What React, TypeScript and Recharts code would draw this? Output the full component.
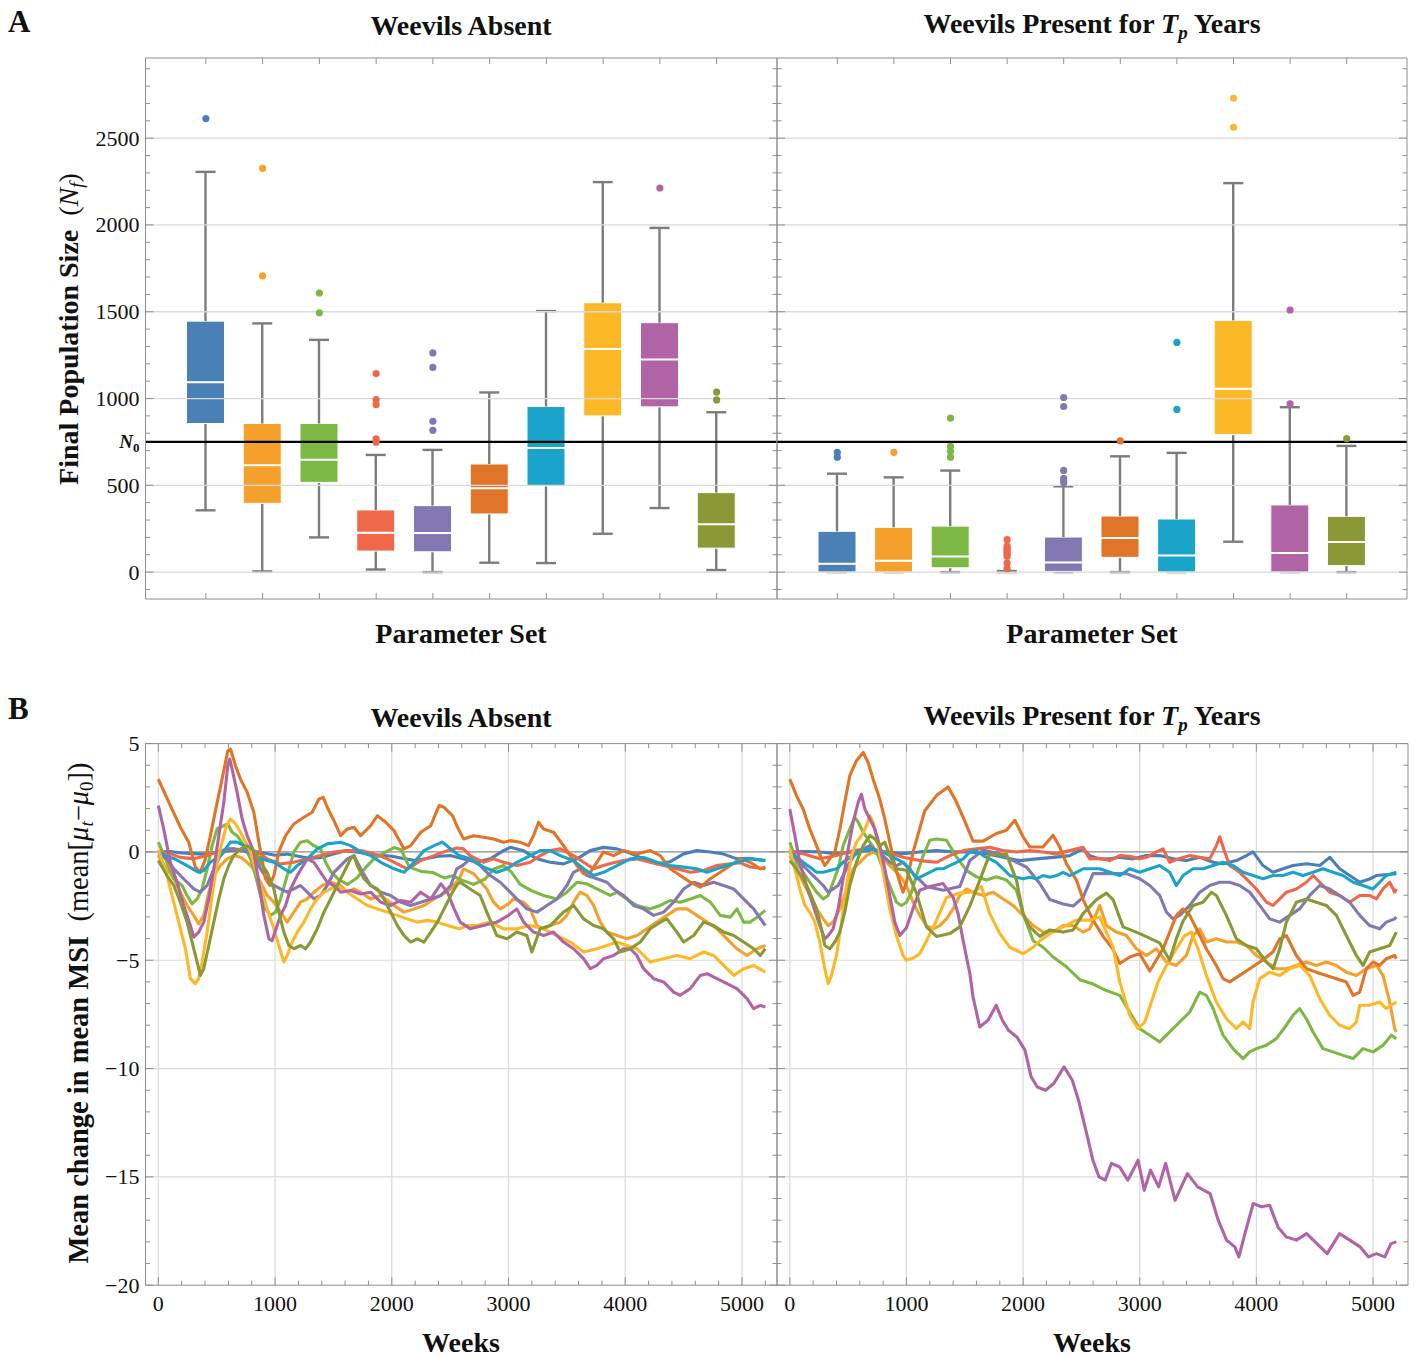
import React from 'react'
import { ComposedChart, LineChart, Line, Bar, Scatter, XAxis, YAxis, ReferenceLine } from 'recharts'

const serif = '"Liberation Serif", "Times New Roman", serif'
const frameColor = '#8f8f8f'
const gridColor = '#dadada'
const whiskerColor = '#7c7c7c'

const palette = ['#4a80b6', '#f5a02a', '#7cb843', '#ef6849', '#8478b2', '#e07428', '#1ba4c9', '#fdb827', '#b164a5', '#8a9936']

// ---- panel A: final population size per parameter set ----
const setNames = ['1', '2', '3', '4', '5', '6', '7', '8', '9', '10']
const N0 = 750

const absentLow = [356, 4, 200, 15, 0, 54, 52, 221, 369, 12]
const absentQ1 = [856, 396, 517, 121, 117, 335, 496, 900, 952, 138]
const absentMedian = [1094, 615, 648, 227, 225, 483, 715, 1286, 1225, 275]
const absentQ3 = [1446, 856, 856, 358, 383, 623, 954, 1552, 1437, 458]
const absentHigh = [2306, 1433, 1338, 675, 704, 1035, 1504, 2247, 1983, 921]
const absentOutliers = [
  [0, 2613], [1, 2326], [1, 1707], [2, 1608], [2, 1494], [3, 1144], [3, 994], [3, 965], [3, 767], [3, 748],
  [4, 1263], [4, 1179], [4, 869], [4, 817], [8, 2213], [9, 1037], [9, 992],
]

const presentLow = [0, 0, 0, 0, 0, 0, 0, 175, 0, 0]
const presentQ1 = [0, 0, 25, 0, 4, 85, 0, 792, 0, 37]
const presentMedian = [48, 65, 90, 0, 56, 196, 96, 1056, 110, 173]
const presentQ3 = [235, 258, 265, 3, 202, 323, 306, 1450, 387, 321]
const presentHigh = [567, 546, 585, 6, 494, 667, 687, 2241, 950, 727]
const presentOutliers = [
  [0, 690], [0, 662], [1, 690], [2, 887], [2, 725], [2, 696], [2, 662],
  [3, 187], [3, 150], [3, 138], [3, 126], [3, 114], [3, 102], [3, 90], [3, 52], [3, 20],
  [4, 1006], [4, 954], [4, 586], [4, 540], [4, 525], [4, 515], [5, 756], [6, 1323], [6, 937],
  [7, 2730], [7, 2563], [8, 1510], [8, 969], [9, 769],
]

// ---- panel B: mean change in mean MSI, [week, value] ----
const absentBlue = [[0,0],[100,0.02],[200,-0.05],[300,-0.08],[400,-0.1],[500,0],[600,0.05],[700,0.1],[800,0.05],[900,-0.05],[1000,-0.15],[1100,-0.1],[1200,-0.2],[1300,-0.3],[1400,-0.25],[1500,-0.1],[1600,0.05],[1700,0],[1800,-0.1],[1900,-0.15],[2000,-0.2],[2100,-0.3],[2200,-0.4],[2300,-0.3],[2400,-0.2],[2500,-0.17],[2600,-0.3],[2729,-0.48],[2850,-0.3],[2957,0.06],[3014,0.21],[3130,0.05],[3243,-0.32],[3357,-0.48],[3471,-0.55],[3586,-0.32],[3700,0.06],[3814,0.21],[3929,0.14],[4040,-0.05],[4157,-0.32],[4271,-0.55],[4386,-0.45],[4500,-0.09],[4614,0.06],[4729,0],[4843,-0.1],[4957,-0.32],[5071,-0.3],[5200,-0.4]]
const absentOrange = [[0,-0.17],[74,-0.78],[132,-1.24],[189,-1.86],[246,-2.47],[303,-2.93],[346,-3.32],[389,-2.93],[432,-1.86],[475,-1.09],[532,-0.63],[589,-0.32],[646,-0.17],[704,-0.25],[761,-0.48],[818,-0.78],[875,-1.4],[932,-2.01],[990,-2.32],[1047,-2.78],[1104,-3.24],[1161,-2.78],[1218,-2.32],[1276,-2.17],[1333,-1.86],[1404,-1.55],[1476,-1.4],[1562,-1.55],[1619,-1.86],[1676,-1.71],[1733,-1.86],[1819,-2.17],[1905,-2.01],[2019,-2.47],[2105,-2.78],[2191,-2.63],[2276,-2.47],[2362,-2.17],[2420,-2.01],[2505,-1.71],[2577,-1.24],[2614,-0.78],[2700,-1.0],[2814,-1.71],[2871,-2.32],[2929,-2.63],[3000,-2.4],[3043,-2.17],[3129,-2.32],[3186,-2.63],[3243,-3.4],[3300,-3.55],[3357,-3.4],[3443,-3.24],[3500,-2.93],[3557,-2.32],[3614,-1.86],[3671,-2.01],[3729,-2.47],[3786,-3.24],[3843,-3.7],[3929,-3.86],[4014,-4.01],[4100,-3.86],[4186,-3.55],[4271,-3.24],[4357,-2.93],[4443,-2.63],[4529,-2.63],[4614,-2.93],[4700,-3.24],[4786,-3.55],[4871,-4.01],[4957,-4.47],[5043,-4.78],[5129,-4.47],[5200,-4.32]]
const absentGreen = [[0,0.45],[74,-0.48],[132,-1.24],[203,-1.55],[246,-2.01],[289,-2.4],[332,-2.17],[375,-1.71],[418,-0.78],[461,0.29],[503,1.06],[561,1.21],[595,1.29],[632,0.91],[675,0.75],[733,0.29],[790,-0.32],[832,-1.09],[875,-2.01],[918,-2.63],[961,-2.93],[1004,-2.78],[1047,-2.17],[1104,-1.09],[1161,0],[1218,0.45],[1276,0.52],[1333,0.29],[1390,0.14],[1433,-0.48],[1476,-0.9],[1550,-1.3],[1620,-1.5],[1700,-1.2],[1780,-0.7],[1850,-0.3],[1950,0],[2020,0.2],[2080,0.1],[2150,-0.7],[2250,-0.9],[2350,-0.95],[2450,-1.2],[2520,-1.1],[2600,-1.3],[2700,-1.5],[2800,-1.25],[2871,-0.8],[2957,-0.63],[3020,-0.9],[3100,-1.5],[3200,-1.8],[3300,-2.01],[3414,-2.17],[3500,-1.86],[3586,-1.4],[3671,-1.47],[3757,-1.71],[3871,-2.01],[3929,-1.86],[4014,-2.17],[4100,-2.47],[4214,-2.63],[4300,-2.47],[4386,-2.24],[4471,-2.32],[4557,-2.17],[4643,-2.01],[4729,-2.32],[4814,-2.93],[4900,-3.01],[4957,-2.63],[5014,-3.24],[5071,-3.24],[5129,-3.01],[5200,-2.7]]
const absentRed = [[0,0],[100,-0.08],[189,-0.25],[303,-0.32],[418,-0.17],[532,0.06],[646,0.14],[761,0.06],[875,-0.1],[932,-0.32],[1047,-0.55],[1161,-0.48],[1276,-0.32],[1390,-0.17],[1504,0],[1619,0.06],[1733,0.06],[1848,-0.09],[1962,-0.32],[2076,-0.63],[2133,-0.78],[2248,-0.4],[2362,-0.17],[2477,0.06],[2557,0.18],[2614,0.14],[2671,-0.17],[2786,-0.48],[2871,-0.32],[2957,-0.48],[3071,-0.63],[3186,-0.48],[3271,-0.17],[3357,0.06],[3443,0.14],[3557,-0.17],[3643,-0.48],[3729,-0.78],[3814,-0.63],[3900,-0.5],[3986,-0.4],[4100,-0.32],[4214,-0.48],[4329,-0.63],[4443,-0.78],[4557,-0.94],[4671,-0.86],[4786,-0.63],[4900,-0.55],[4986,-0.5],[5071,-0.7],[5200,-0.78]]
const absentPurple = [[0,-0.1],[74,-0.32],[132,-0.78],[189,-1.09],[246,-1.4],[303,-1.71],[360,-1.86],[418,-1.55],[475,-0.78],[532,-0.17],[589,0.14],[646,0.14],[704,0.06],[761,0],[818,-0.17],[875,-0.78],[932,-1.24],[990,-1.55],[1047,-1.71],[1104,-1.86],[1161,-1.71],[1218,-1.55],[1276,-1.86],[1333,-2.17],[1390,-2.01],[1447,-1.55],[1504,-0.94],[1562,-0.63],[1619,-0.32],[1676,-0.17],[1733,-0.78],[1819,-1.55],[1905,-1.86],[1990,-2.01],[2076,-2.32],[2162,-2.47],[2248,-2.32],[2334,-2.17],[2420,-2.01],[2505,-1.55],[2557,-0.78],[2614,-0.6],[2671,-0.32],[2757,-0.63],[2843,-1.09],[2929,-1.4],[3014,-1.86],[3071,-2.17],[3157,-2.63],[3243,-2.78],[3329,-2.47],[3414,-2.17],[3500,-1.55],[3557,-0.94],[3614,-0.78],[3671,-1.09],[3757,-1.24],[3843,-1.4],[3900,-1.71],[3986,-2.01],[4071,-2.47],[4157,-2.63],[4243,-2.93],[4329,-2.78],[4414,-2.32],[4500,-1.71],[4586,-1.4],[4671,-1.55],[4757,-1.4],[4843,-1.55],[4929,-1.71],[5014,-2.17],[5100,-2.63],[5200,-3.4]]
const absentDarkOrange = [[0,3.36],[103,2.14],[189,1.14],[260,0.45],[317,-0.7],[360,-0.94],[403,-0.32],[446,0.75],[489,1.9],[546,3.36],[595,4.67],[618,4.75],[661,3.98],[704,3.36],[761,2.75],[818,1.83],[861,0.45],[918,-1.24],[955,-1.55],[990,-1.09],[1032,0],[1090,0.75],[1161,1.29],[1247,1.6],[1318,1.83],[1376,2.44],[1413,2.52],[1447,2.06],[1504,1.44],[1562,0.75],[1619,1.06],[1676,1.14],[1733,0.75],[1819,1.21],[1876,1.67],[1948,1.37],[2019,0.98],[2105,0.14],[2162,0.29],[2248,0.91],[2334,1.21],[2405,2.14],[2448,2.06],[2520,1.67],[2557,1.21],[2614,0.6],[2700,0.75],[2786,0.68],[2871,0.6],[2957,0.45],[3014,0.52],[3100,0.45],[3171,0.29],[3214,0.75],[3257,1.37],[3300,1.06],[3386,0.91],[3471,0.29],[3529,-0.17],[3586,-0.63],[3643,-1.01],[3700,-0.94],[3757,-0.48],[3814,0],[3900,-0.17],[3986,0.06],[4100,-0.1],[4214,0.06],[4300,-0.17],[4386,-0.78],[4471,-1.09],[4557,-1.4],[4643,-1.63],[4729,-1.24],[4814,-0.94],[4900,-0.63],[4986,-0.32],[5071,-0.48],[5157,-0.78],[5200,-0.7]]
const absentCyan = [[0,0],[46,-0.15],[132,-0.3],[246,-0.63],[346,-0.94],[389,-0.86],[446,-0.48],[532,-0.17],[618,0.45],[675,0.45],[733,0.29],[790,0],[875,-0.32],[932,-0.4],[990,-0.48],[1075,-0.78],[1133,-0.94],[1190,-0.63],[1276,-0.32],[1361,0.14],[1447,0.37],[1562,0.45],[1647,0.29],[1733,0],[1819,-0.17],[1905,-0.48],[2019,-0.78],[2105,-0.94],[2191,-0.48],[2276,0.06],[2362,0.29],[2434,0.45],[2505,0.14],[2577,-0.17],[2671,-0.32],[2786,-0.7],[2900,-0.94],[2986,-0.78],[3071,-0.48],[3186,-0.17],[3271,0.06],[3357,0.06],[3443,-0.17],[3557,-0.4],[3643,-0.78],[3729,-1.09],[3814,-0.94],[3929,-0.63],[4043,-0.32],[4157,-0.25],[4271,-0.48],[4386,-0.63],[4500,-0.7],[4614,-0.78],[4700,-0.94],[4786,-0.78],[4871,-0.63],[4957,-0.48],[5071,-0.32],[5200,-0.4]]
const absentYellow = [[0,0.1],[74,-1.09],[132,-2.32],[189,-3.55],[232,-4.47],[275,-5.85],[317,-6.08],[346,-5.85],[375,-5.08],[418,-3.7],[461,-2.01],[503,-0.48],[546,0.45],[584,1.21],[618,1.52],[661,1.29],[704,0.91],[747,0.45],[790,0],[832,-0.78],[875,-1.55],[932,-2.63],[990,-3.55],[1032,-4.32],[1075,-5.08],[1104,-4.78],[1147,-4.16],[1190,-3.7],[1247,-3.24],[1304,-2.63],[1361,-2.17],[1419,-1.86],[1476,-1.71],[1533,-1.55],[1619,-1.86],[1704,-2.17],[1790,-2.47],[1876,-2.63],[1962,-2.78],[2048,-2.93],[2133,-3.09],[2219,-3.24],[2305,-3.16],[2391,-3.24],[2477,-3.4],[2577,-3.55],[2650,-3.4],[2729,-3.4],[2843,-3.24],[2957,-3.55],[3071,-3.55],[3186,-3.4],[3300,-3.55],[3414,-3.86],[3529,-4.16],[3643,-4.62],[3757,-4.47],[3843,-4.32],[3929,-4.16],[4014,-4.32],[4100,-4.47],[4214,-5.08],[4329,-4.93],[4443,-4.78],[4557,-4.93],[4671,-4.62],[4757,-4.78],[4843,-5.24],[4929,-5.7],[5014,-5.39],[5100,-5.24],[5200,-5.55]]
const absentMagenta = [[0,2.14],[46,1.06],[103,-0.48],[160,-1.4],[217,-2.47],[275,-3.4],[303,-3.93],[346,-3.7],[389,-3.24],[432,-2.17],[475,-0.78],[518,0.75],[561,2.29],[595,3.98],[612,4.29],[632,3.82],[675,2.75],[718,1.52],[761,0.75],[818,0],[861,-1.4],[904,-2.93],[947,-4.01],[975,-4.09],[1018,-3.4],[1047,-2.93],[1090,-2.47],[1133,-1.71],[1190,-1.09],[1276,-0.32],[1333,-0.48],[1390,-0.94],[1447,-1.4],[1504,-1.55],[1562,-1.86],[1647,-1.78],[1733,-1.94],[1819,-1.86],[1905,-2.32],[1990,-2.47],[2076,-2.24],[2162,-2.32],[2248,-1.86],[2334,-2.17],[2420,-1.47],[2477,-1.86],[2534,-2.63],[2586,-3.24],[2671,-3.55],[2786,-3.4],[2900,-3.24],[3000,-2.93],[3071,-2.63],[3129,-3.24],[3214,-3.7],[3300,-3.86],[3386,-3.7],[3471,-4.16],[3557,-4.47],[3643,-4.93],[3700,-5.39],[3757,-5.24],[3814,-4.93],[3900,-4.78],[3986,-4.47],[4043,-4.47],[4100,-4.78],[4157,-5.39],[4243,-5.85],[4329,-6.0],[4414,-6.47],[4471,-6.62],[4557,-6.31],[4643,-5.7],[4700,-5.62],[4786,-5.85],[4871,-6.08],[4957,-6.31],[5043,-6.77],[5100,-7.23],[5157,-7.08],[5200,-7.16]]
const absentOlive = [[0,-0.4],[74,-1.09],[132,-1.55],[189,-2.32],[246,-3.24],[289,-4.16],[332,-5.08],[360,-5.7],[389,-5.39],[432,-4.32],[475,-3.24],[518,-2.17],[561,-1.24],[603,-0.63],[646,-0.17],[704,0.14],[761,0.29],[818,0.06],[875,-0.48],[932,-0.94],[990,-1.71],[1032,-2.78],[1075,-3.7],[1118,-4.32],[1161,-4.47],[1218,-4.32],[1261,-4.47],[1304,-4.16],[1361,-3.55],[1419,-2.78],[1476,-2.17],[1533,-1.55],[1590,-0.94],[1647,-0.32],[1676,-0.17],[1704,-0.63],[1762,-1.24],[1819,-1.55],[1876,-1.71],[1933,-2.17],[1990,-2.78],[2048,-3.4],[2105,-3.86],[2162,-4.16],[2219,-4.01],[2276,-4.16],[2334,-3.7],[2391,-3.24],[2448,-2.63],[2520,-1.86],[2560,-1.5],[2586,-1.4],[2671,-1.71],[2757,-2.01],[2814,-2.78],[2900,-3.86],[2986,-4.01],[3071,-3.7],[3157,-3.86],[3200,-4.62],[3271,-3.55],[3357,-3.4],[3471,-2.78],[3557,-2.47],[3643,-3.09],[3729,-3.4],[3814,-3.55],[3900,-4.01],[3957,-4.62],[4043,-4.47],[4129,-4.16],[4214,-3.55],[4300,-3.24],[4357,-3.09],[4443,-3.7],[4500,-4.16],[4586,-3.86],[4671,-3.24],[4757,-3.4],[4843,-3.7],[4929,-3.86],[5014,-4.16],[5100,-4.47],[5157,-4.78],[5200,-4.47]]

const presentBlue = [[0,0],[114,0.02],[257,0],[400,-0.08],[543,0],[686,0.06],[829,0],[971,-0.08],[1114,0],[1257,0.06],[1400,0],[1543,0],[1686,-0.08],[1829,-0.25],[1971,-0.4],[2114,-0.32],[2257,-0.25],[2400,-0.17],[2514,0.14],[2571,-0.17],[2657,-0.32],[2743,-0.32],[2829,-0.25],[2943,-0.32],[3057,-0.17],[3171,-0.17],[3286,-0.32],[3400,-0.4],[3514,-0.25],[3629,-0.48],[3714,-0.55],[3829,-0.4],[3914,-0.17],[3971,0],[4057,-0.63],[4143,-0.94],[4229,-0.78],[4314,-0.63],[4429,-0.55],[4543,-0.63],[4629,-0.25],[4714,-0.78],[4800,-1.09],[4886,-1.4],[4971,-1.25],[5029,-1.09],[5200,-1.01]]
const presentOrange = [[0,-0.17],[57,-0.78],[114,-1.4],[171,-2.01],[229,-2.63],[286,-3.09],[329,-3.4],[371,-3.24],[429,-2.63],[486,-1.71],[543,-0.78],[600,-0.48],[657,-0.17],[714,0],[771,-0.17],[829,-0.48],[886,-0.78],[943,-1.09],[1000,-1.55],[1057,-2.32],[1114,-2.93],[1171,-3.4],[1229,-3.55],[1286,-3.4],[1343,-3.09],[1400,-2.63],[1457,-2.01],[1514,-1.71],[1571,-1.86],[1657,-2.01],[1743,-1.86],[1829,-2.17],[1914,-2.47],[2000,-2.93],[2086,-3.4],[2171,-3.7],[2257,-3.7],[2343,-3.4],[2429,-3.4],[2514,-3.7],[2571,-3.55],[2657,-2.47],[2714,-3.4],[2800,-3.7],[2886,-3.86],[2971,-4.47],[3057,-4.78],[3143,-4.47],[3229,-5.08],[3314,-5.24],[3400,-4.78],[3457,-3.86],[3514,-3.55],[3571,-4.16],[3657,-4.01],[3743,-4.16],[3829,-4.16],[3914,-4.32],[4000,-4.78],[4086,-5.08],[4171,-5.39],[4257,-5.39],[4343,-5.24],[4429,-5.08],[4514,-5.24],[4600,-5.08],[4686,-5.24],[4771,-5.55],[4857,-5.7],[4943,-5.39],[5029,-5.24],[5086,-5.7],[5143,-6.93],[5186,-8.16],[5200,-8.31]]
const presentGreen = [[0,0.45],[57,-0.48],[114,-0.94],[171,-1.4],[229,-1.86],[286,-2.17],[329,-2.01],[371,-1.4],[414,-0.78],[457,0.29],[514,1.06],[557,1.6],[586,1.37],[629,0.91],[686,0.45],[743,0],[800,-0.78],[857,-1.55],[914,-2.32],[957,-2.47],[1000,-2.32],[1043,-1.86],[1086,-1.09],[1143,-0.17],[1200,0.54],[1257,0.6],[1343,0.54],[1429,-0.23],[1514,-0.85],[1600,-1.15],[1686,-1.3],[1771,-1.15],[1857,-1.3],[1943,-1.77],[2000,-2.85],[2086,-4.1],[2171,-4.4],[2257,-4.85],[2371,-5.3],[2486,-5.9],[2600,-6.1],[2714,-6.4],[2829,-6.62],[2914,-7.39],[3000,-8.16],[3086,-8.46],[3171,-8.77],[3257,-8.31],[3343,-7.85],[3429,-7.39],[3514,-6.47],[3571,-6.62],[3629,-7.23],[3714,-8.46],[3800,-9.08],[3886,-9.54],[3943,-9.23],[4000,-9.08],[4086,-8.92],[4171,-8.62],[4257,-8.0],[4314,-7.54],[4371,-7.23],[4429,-7.7],[4486,-8.31],[4571,-9.08],[4657,-9.23],[4743,-9.39],[4829,-9.54],[4914,-9.08],[5000,-9.23],[5086,-8.92],[5157,-8.46],[5200,-8.62]]
const presentRed = [[0,0],[114,-0.08],[257,-0.32],[400,-0.17],[543,0.06],[686,0.14],[829,0],[971,-0.25],[1114,-0.4],[1257,-0.48],[1371,-0.17],[1486,0.06],[1600,0.14],[1714,0.21],[1829,0.06],[1943,0],[2057,0.06],[2171,0],[2286,-0.09],[2400,0.06],[2514,0.21],[2571,-0.32],[2657,-0.3],[2743,-0.4],[2829,-0.17],[2914,-0.2],[3000,-0.32],[3057,-0.25],[3143,0],[3200,0.14],[3257,-0.48],[3343,-0.3],[3429,-0.17],[3514,-0.25],[3600,-0.32],[3657,0.29],[3686,0.7],[3729,0],[3771,-0.63],[3857,-0.94],[3914,-1.24],[4000,-1.71],[4086,-2.32],[4143,-2.47],[4200,-2.17],[4257,-1.86],[4343,-1.71],[4429,-1.4],[4486,-1.09],[4543,-1.4],[4629,-1.86],[4714,-2.01],[4800,-2.32],[4886,-2.01],[4971,-2.01],[5029,-2.17],[5086,-1.71],[5143,-1.4],[5186,-1.86],[5200,-1.71]]
const presentPurple = [[0,0],[57,-0.32],[114,-0.63],[171,-0.94],[229,-1.24],[286,-1.55],[329,-1.86],[371,-1.71],[414,-1.55],[457,-1.09],[514,-0.48],[571,0],[629,0.14],[686,0.29],[743,0.06],[800,-0.17],[857,-0.48],[914,-0.63],[971,-0.48],[1057,-1.0],[1171,-1.6],[1314,-1.77],[1457,-1.6],[1543,-0.4],[1657,0.08],[1800,-0.08],[1914,-0.4],[2029,-0.7],[2143,-1.46],[2229,-2.2],[2343,-2.4],[2429,-2.5],[2514,-2.1],[2600,-1.0],[2714,-1.0],[2886,-1.0],[3000,-1.24],[3086,-1.55],[3171,-2.01],[3229,-2.78],[3286,-3.09],[3343,-2.93],[3429,-2.47],[3514,-1.86],[3600,-1.55],[3686,-1.4],[3771,-1.4],[3857,-1.55],[3943,-1.86],[4029,-2.47],[4114,-3.09],[4200,-3.24],[4286,-2.93],[4371,-2.63],[4457,-2.01],[4543,-1.55],[4629,-1.71],[4714,-2.01],[4800,-2.32],[4886,-2.93],[4971,-3.4],[5057,-3.55],[5114,-3.24],[5186,-3.09],[5200,-3.0]]
const presentDarkOrange = [[0,3.36],[57,2.6],[114,1.98],[171,1.06],[229,0.29],[271,-0.32],[300,-0.63],[343,-0.32],[386,0],[429,1.06],[471,2.29],[514,3.52],[571,4.21],[629,4.59],[671,4.13],[714,3.36],[771,2.44],[814,1.52],[857,0.45],[900,-0.63],[943,-1.4],[971,-1.86],[1000,-1.4],[1057,0],[1157,1.9],[1257,2.6],[1357,3.0],[1420,2.4],[1486,1.6],[1571,0.5],[1657,0.5],[1771,0.85],[1857,1.0],[1929,1.46],[2000,0.7],[2057,0.23],[2171,0.23],[2257,0.77],[2314,0.23],[2371,-0.54],[2457,-1.3],[2514,-2.2],[2600,-3.15],[2686,-3.9],[2771,-4.5],[2829,-5.15],[2914,-4.85],[3000,-4.7],[3086,-5.5],[3200,-4.47],[3257,-3.7],[3314,-2.93],[3371,-2.63],[3429,-2.93],[3486,-3.55],[3571,-4.47],[3657,-5.24],[3714,-5.85],[3771,-6.0],[3857,-5.7],[3943,-5.39],[4029,-5.08],[4143,-4.62],[4200,-4.01],[4257,-3.86],[4343,-4.78],[4429,-5.39],[4514,-5.55],[4600,-5.7],[4686,-5.85],[4771,-6.0],[4829,-6.62],[4886,-6.47],[4943,-5.39],[5000,-5.08],[5057,-5.24],[5114,-4.93],[5186,-4.78],[5200,-4.93]]
const presentCyan = [[0,0],[57,-0.23],[114,-0.48],[171,-0.7],[229,-0.94],[286,-0.94],[343,-0.86],[400,-0.78],[457,-0.48],[514,-0.25],[571,-0.09],[629,0.06],[686,0.14],[743,0.06],[800,0],[857,-0.17],[914,-0.32],[971,-0.48],[1029,-0.78],[1086,-1.24],[1143,-1.09],[1200,-0.94],[1257,-0.78],[1314,-0.78],[1371,-0.63],[1429,-0.48],[1486,-0.32],[1543,0],[1600,0.06],[1657,-0.17],[1714,-0.32],[1771,-0.48],[1829,-0.78],[1886,-1.09],[1943,-1.17],[2000,-1.24],[2057,-1.17],[2114,-1.24],[2171,-1.09],[2229,-1.17],[2286,-1.09],[2343,-0.94],[2400,-1.09],[2457,-0.94],[2514,-0.78],[2571,-0.78],[2657,-0.78],[2743,-0.94],[2829,-1.09],[2914,-0.78],[3000,-0.94],[3086,-0.78],[3171,-0.63],[3257,-0.94],[3314,-1.55],[3371,-1.09],[3457,-0.78],[3543,-0.78],[3629,-0.63],[3714,-0.48],[3800,-0.63],[3886,-0.94],[3971,-1.09],[4057,-1.24],[4143,-1.09],[4229,-1.09],[4314,-0.94],[4400,-1.09],[4486,-0.94],[4571,-0.78],[4657,-0.94],[4743,-1.09],[4829,-1.4],[4914,-1.55],[5000,-1.71],[5057,-1.4],[5114,-1.09],[5200,-0.94]]
const presentYellow = [[0,0.14],[43,-0.78],[86,-1.71],[129,-2.47],[171,-2.78],[214,-3.24],[257,-4.16],[300,-5.39],[329,-6.08],[357,-5.7],[400,-4.78],[443,-3.24],[486,-1.55],[529,-0.17],[571,0.45],[614,0.75],[657,1.21],[686,1.67],[714,1.37],[757,0.29],[800,-0.94],[857,-2.63],[914,-3.86],[971,-4.78],[1000,-5.0],[1057,-4.9],[1114,-4.7],[1229,-3.5],[1343,-2.1],[1457,-1.9],[1571,-1.85],[1643,-1.6],[1714,-2.85],[1800,-3.77],[1886,-4.4],[2000,-4.7],[2086,-4.4],[2143,-4.1],[2229,-3.77],[2343,-3.46],[2457,-3.15],[2571,-3.15],[2657,-3.0],[2771,-4.4],[2829,-6.0],[2914,-7.54],[2986,-8.16],[3043,-7.85],[3100,-6.93],[3157,-6.0],[3229,-5.24],[3314,-4.47],[3386,-3.86],[3443,-3.7],[3500,-4.47],[3571,-5.7],[3657,-6.93],[3743,-7.7],[3829,-8.16],[3886,-7.85],[3943,-8.16],[3971,-6.93],[4029,-5.85],[4114,-5.55],[4200,-5.7],[4286,-5.39],[4371,-5.24],[4457,-5.7],[4543,-6.77],[4629,-7.54],[4714,-8.0],[4800,-8.16],[4857,-7.85],[4886,-7.08],[4971,-7.08],[5057,-6.93],[5114,-7.23],[5200,-6.93]]
const presentMagenta = [[0,1.98],[43,0.75],[86,-0.48],[143,-1.55],[200,-2.47],[257,-3.4],[300,-4.01],[329,-3.86],[371,-3.55],[414,-2.63],[457,-1.24],[500,0.14],[543,1.37],[586,2.29],[614,2.67],[643,1.98],[686,1.52],[729,1.06],[771,0.29],[814,-0.78],[857,-2.01],[900,-3.24],[943,-3.86],[1000,-3.5],[1057,-2.6],[1114,-1.77],[1200,-1.6],[1314,-1.46],[1400,-2.1],[1443,-2.85],[1486,-4.1],[1543,-5.6],[1571,-6.7],[1628,-8.08],[1699,-7.77],[1770,-7.08],[1822,-7.77],[1875,-8.23],[1946,-8.54],[2016,-9.15],[2069,-10.38],[2122,-10.85],[2193,-11.0],[2263,-10.69],[2351,-9.92],[2422,-10.54],[2475,-11.46],[2545,-13.0],[2598,-14.23],[2651,-15.0],[2704,-15.15],[2757,-14.38],[2827,-14.54],[2898,-15.15],[2986,-14.23],[3039,-15.62],[3092,-14.69],[3162,-15.46],[3222,-14.38],[3303,-16.08],[3356,-15.46],[3409,-14.85],[3497,-15.46],[3603,-15.77],[3673,-17.0],[3744,-17.92],[3815,-18.23],[3850,-18.69],[3902,-17.62],[3973,-16.23],[4043,-16.38],[4114,-16.31],[4185,-17.31],[4255,-17.77],[4343,-17.92],[4431,-17.62],[4519,-18.08],[4607,-18.54],[4713,-17.62],[4801,-17.92],[4889,-18.23],[4960,-18.69],[5030,-18.54],[5101,-18.69],[5154,-18.08],[5200,-18.0]]
const presentOlive = [[0,-0.4],[57,-0.78],[114,-1.24],[171,-1.86],[229,-2.63],[271,-3.55],[300,-4.32],[343,-4.47],[386,-4.16],[429,-3.7],[471,-2.78],[514,-1.55],[571,-0.48],[629,0.29],[686,0.75],[729,0.6],[771,0.29],[814,0.45],[857,-0.17],[914,-0.78],[1000,-0.85],[1086,-1.9],[1171,-3.46],[1257,-3.9],[1371,-3.77],[1457,-3.46],[1543,-2.5],[1629,-1.3],[1714,-0.1],[1800,-0.15],[1857,-0.1],[1943,-1.3],[2000,-2.85],[2057,-3.46],[2143,-3.9],[2229,-3.6],[2343,-3.7],[2429,-3.6],[2514,-2.85],[2629,-2.2],[2714,-1.9],[2771,-2.2],[2857,-3.46],[3000,-3.77],[3171,-4.2],[3257,-5.0],[3314,-4.0],[3371,-3.2],[3457,-2.47],[3543,-2.32],[3614,-1.86],[3657,-2.01],[3743,-2.93],[3829,-4.01],[3914,-4.32],[4000,-4.47],[4086,-5.08],[4143,-5.39],[4200,-4.47],[4257,-3.24],[4343,-2.32],[4429,-2.17],[4514,-2.32],[4600,-2.47],[4686,-2.93],[4771,-3.86],[4857,-4.78],[4914,-5.24],[4971,-4.62],[5057,-4.47],[5143,-4.32],[5200,-3.7]]

const absentSeries = [absentBlue, absentOrange, absentGreen, absentRed, absentPurple, absentDarkOrange, absentCyan, absentYellow, absentMagenta, absentOlive]
const presentSeries = [presentBlue, presentOrange, presentGreen, presentRed, presentPurple, presentDarkOrange, presentCyan, presentYellow, presentMagenta, presentOlive]

// axis tick positions
const popTicks = Array.from({ length: 31 }, (_, i) => -100 + i * 100)
const popMajor = [0, 500, 1000, 1500, 2000, 2500]
const msiTicks = Array.from({ length: 26 }, (_, i) => -20 + i)
const msiMajor = [-20, -15, -10, -5, 0, 5]
const weekTicks = Array.from({ length: 27 }, (_, i) => i * 200)
const weekMajor = [0, 1000, 2000, 3000, 4000, 5000]

const fmt = (v: number) => (v < 0 ? '\u2212' + Math.abs(v) : String(v))

function axisTick(side: string, majors: any[], showLabel: boolean) {
  return (props: any) => {
    const { x, y, payload } = props
    const v = payload.value
    if (v === N0) {
      if (!showLabel) return <g />
      return (
        <text x={x - 6} y={y} textAnchor="end" dominantBaseline="central" fontFamily={serif} fontSize={19} fontWeight="bold" fontStyle="italic" fill="#111">
          N<tspan fontSize={13} dy={5} fontStyle="normal">0</tspan>
        </text>
      )
    }
    const major = majors.includes(v)
    const len = major ? 8 : 4.5
    let line = null
    if (side === 'left') line = <line x1={x} y1={y} x2={x + len} y2={y} stroke={frameColor} />
    if (side === 'right') line = <line x1={x - len} y1={y} x2={x} y2={y} stroke={frameColor} />
    if (side === 'bottom') line = <line x1={x} y1={y - len} x2={x} y2={y} stroke={frameColor} />
    if (side === 'top') line = <line x1={x} y1={y} x2={x} y2={y + len} stroke={frameColor} />
    let label = null
    if (showLabel && major) {
      if (side === 'left')
        label = <text x={x - 6} y={y} textAnchor="end" dominantBaseline="central" fontFamily={serif} fontSize={22} fill="#111">{fmt(v)}</text>
      if (side === 'bottom')
        label = <text x={x} y={y + 18} textAnchor="middle" dominantBaseline="central" fontFamily={serif} fontSize={22} fill="#111">{fmt(v)}</text>
    }
    return <g>{line}{label}</g>
  }
}

function catTick(side: string) {
  return (props: any) => {
    const { x, y } = props
    return side === 'top'
      ? <line x1={x} y1={y} x2={x} y2={y + 6} stroke={frameColor} />
      : <line x1={x} y1={y - 6} x2={x} y2={y} stroke={frameColor} />
  }
}

const hiddenShape = () => <g />
const lowerWhiskerShape = (p: any) => {
  const cx = p.x + p.width / 2
  const yb = p.y + p.height
  return (
    <g>
      <line x1={cx} x2={cx} y1={p.y} y2={yb} stroke={whiskerColor} strokeWidth={2.4} />
      <line x1={cx - 10} x2={cx + 10} y1={yb} y2={yb} stroke={whiskerColor} strokeWidth={2.4} />
    </g>
  )
}
const upperWhiskerShape = (p: any) => {
  const cx = p.x + p.width / 2
  return (
    <g>
      <line x1={cx} x2={cx} y1={p.y} y2={p.y + p.height} stroke={whiskerColor} strokeWidth={2.4} />
      <line x1={cx - 10} x2={cx + 10} y1={p.y} y2={p.y} stroke={whiskerColor} strokeWidth={2.4} />
    </g>
  )
}
const lowerBoxShape = (p: any) => (
  <rect x={p.x} y={p.y} width={p.width} height={Math.max(p.height, 0)} fill={palette[p.index]} stroke="#fff" strokeWidth={1} />
)
const upperBoxShape = (p: any) => (
  <g>
    <rect x={p.x} y={p.y} width={p.width} height={Math.max(p.height, 0)} fill={palette[p.index]} stroke="#fff" strokeWidth={1} />
    <line x1={p.x} x2={p.x + p.width} y1={p.y + p.height} y2={p.y + p.height} stroke="#fff" strokeWidth={2} />
  </g>
)
const dotShape = (p: any) => <circle cx={p.cx} cy={p.cy} r={3.6} fill={palette[p.payload.ci]} />

function BoxPanel({ low, q1, median, q3, high, outliers, left, width, margin, yLabels, rightWidth }: any) {
  const rows = setNames.map((name, i) => ({
    set: name,
    base: low[i],
    lowerWhisker: q1[i] - low[i],
    lowerBox: median[i] - q1[i],
    upperBox: q3[i] - median[i],
    upperWhisker: high[i] - q3[i],
  }))
  const dots = outliers.map(([i, v]: number[]) => ({ set: setNames[i], v, ci: i }))
  const axisCommon = { tickSize: 0, tickMargin: 0, tickLine: false, axisLine: { stroke: frameColor }, interval: 0 as const }
  return (
    <div style={{ position: 'absolute', left, top: 0 }}>
      <ComposedChart width={width} height={615} data={rows} margin={margin}>
        <XAxis dataKey="set" type="category" allowDuplicatedCategory={false} padding={{ left: 32, right: 32 }} height={8} tick={catTick('bottom')} {...axisCommon} />
        <XAxis xAxisId="t" orientation="top" dataKey="set" type="category" allowDuplicatedCategory={false} padding={{ left: 32, right: 32 }} height={8} tick={catTick('top')} {...axisCommon} />
        <YAxis type="number" domain={[-155, 2962]} allowDataOverflow ticks={yLabels ? [...popTicks, N0] : popTicks} width={yLabels ? 60 : 8} tick={axisTick('left', popMajor, yLabels)} {...axisCommon} />
        <YAxis yAxisId="r" orientation="right" type="number" domain={[-155, 2962]} allowDataOverflow ticks={popTicks} width={rightWidth} tick={axisTick('right', popMajor, false)} {...axisCommon} />
        {popMajor.map((v) => (
          <ReferenceLine key={'g' + v} y={v} stroke={gridColor} strokeWidth={1.3} />
        ))}
        <Bar dataKey="base" stackId="box" barSize={38} shape={hiddenShape} isAnimationActive={false} />
        <Bar dataKey="lowerWhisker" stackId="box" barSize={38} shape={lowerWhiskerShape} isAnimationActive={false} />
        <Bar dataKey="lowerBox" stackId="box" barSize={38} shape={lowerBoxShape} isAnimationActive={false} />
        <Bar dataKey="upperBox" stackId="box" barSize={38} shape={upperBoxShape} isAnimationActive={false} />
        <Bar dataKey="upperWhisker" stackId="box" barSize={38} shape={upperWhiskerShape} isAnimationActive={false} />
        <Scatter data={dots} dataKey="v" shape={dotShape} isAnimationActive={false} />
        <ReferenceLine y={N0} stroke="#000" strokeWidth={2.2} />
      </ComposedChart>
    </div>
  )
}

function TracePanel({ series, left, width, margin, yLabels, rightWidth }: any) {
  const axisCommon = { tickSize: 0, tickMargin: 0, tickLine: false, axisLine: { stroke: frameColor }, interval: 0 as const }
  return (
    <div style={{ position: 'absolute', left, top: 700 }}>
      <LineChart width={width} height={620} margin={margin}>
        <XAxis type="number" dataKey="w" domain={[-110, 5300]} allowDataOverflow ticks={weekTicks} height={30} tick={axisTick('bottom', weekMajor, true)} {...axisCommon} />
        <XAxis xAxisId="t" orientation="top" type="number" dataKey="w" domain={[-110, 5300]} allowDataOverflow ticks={weekTicks} height={8} tick={axisTick('top', weekMajor, false)} {...axisCommon} />
        <YAxis type="number" domain={[-20, 5]} allowDataOverflow ticks={msiTicks} width={yLabels ? 60 : 8} tick={axisTick('left', msiMajor, yLabels)} {...axisCommon} />
        <YAxis yAxisId="r" orientation="right" type="number" domain={[-20, 5]} allowDataOverflow ticks={msiTicks} width={rightWidth} tick={axisTick('right', msiMajor, false)} {...axisCommon} />
        {weekMajor.map((v) => (
          <ReferenceLine key={'x' + v} x={v} stroke={gridColor} strokeWidth={1.2} />
        ))}
        {[-15, -10, -5].map((v) => (
          <ReferenceLine key={'y' + v} y={v} stroke={gridColor} strokeWidth={1.2} />
        ))}
        <ReferenceLine y={0} stroke="#8a8a8a" strokeWidth={1.3} />
        {series.map((pts: number[][], i: number) => (
          <Line
            key={i}
            data={pts.map(([w, v]) => ({ w, v }))}
            dataKey="v"
            type="linear"
            stroke={palette[i]}
            strokeWidth={3.1}
            strokeLinejoin="round"
            dot={false}
            activeDot={false}
            isAnimationActive={false}
          />
        ))}
      </LineChart>
    </div>
  )
}

export default function App() {
  const sub = { fontSize: 19 }
  return (
    <div style={{ position: 'absolute', left: 0, top: 0, width: 1419, height: 1357, background: '#fff', overflow: 'hidden' }}>
      <BoxPanel low={absentLow} q1={absentQ1} median={absentMedian} q3={absentQ3} high={absentHigh} outliers={absentOutliers}
        left={0} width={790} margin={{ top: 50, right: 5, bottom: 8, left: 85.5 }} yLabels rightWidth={8} />
      <BoxPanel low={presentLow} q1={presentQ1} median={presentMedian} q3={presentQ3} high={presentHigh} outliers={presentOutliers}
        left={700} width={715} margin={{ top: 50, right: 3, bottom: 8, left: 69 }} yLabels={false} rightWidth={5} />
      <TracePanel series={absentSeries} left={0} width={790} margin={{ top: 35.6, right: 5, bottom: 4.8, left: 85.5 }} yLabels rightWidth={8} />
      <TracePanel series={presentSeries} left={700} width={715} margin={{ top: 35.6, right: 2, bottom: 4.8, left: 69 }} yLabels={false} rightWidth={5} />

      <svg width={1419} height={1357} style={{ position: 'absolute', left: 0, top: 0, pointerEvents: 'none' }} fontFamily={serif} fill="#111">
        <text x={8} y={32} fontSize={31} fontWeight="bold">A</text>
        <text x={8} y={719} fontSize={31} fontWeight="bold">B</text>

        <text x={461} y={35} textAnchor="middle" fontSize={28} fontWeight="bold">Weevils Absent</text>
        <text x={1092} y={33} textAnchor="middle" fontSize={28} fontWeight="bold">
          Weevils Present for <tspan fontStyle="italic">T</tspan><tspan fontStyle="italic" {...sub} dy={6}>p</tspan><tspan dy={-6}> Years</tspan>
        </text>
        <text x={461} y={643} textAnchor="middle" fontSize={28} fontWeight="bold">Parameter Set</text>
        <text x={1092} y={643} textAnchor="middle" fontSize={28} fontWeight="bold">Parameter Set</text>

        <text x={461} y={727} textAnchor="middle" fontSize={28} fontWeight="bold">Weevils Absent</text>
        <text x={1092} y={725} textAnchor="middle" fontSize={28} fontWeight="bold">
          Weevils Present for <tspan fontStyle="italic">T</tspan><tspan fontStyle="italic" {...sub} dy={6}>p</tspan><tspan dy={-6}> Years</tspan>
        </text>
        <text x={461} y={1352} textAnchor="middle" fontSize={28} fontWeight="bold">Weeks</text>
        <text x={1092} y={1352} textAnchor="middle" fontSize={28} fontWeight="bold">Weeks</text>

        <text transform="rotate(-90 78 329)" x={78} y={329} textAnchor="middle" fontSize={28}>
          <tspan fontWeight="bold">Final Population Size</tspan>
          <tspan>{'\u00a0\u00a0('}</tspan>
          <tspan fontStyle="italic">N</tspan>
          <tspan fontStyle="italic" {...sub} dy={5}>f</tspan>
          <tspan dy={-5}>)</tspan>
        </text>
        <text transform="rotate(-90 88 1013)" x={88} y={1013} textAnchor="middle" fontSize={28.5}>
          <tspan fontWeight="bold">Mean change in mean MSI</tspan>
          <tspan>{'\u00a0\u00a0(mean['}</tspan>
          <tspan fontStyle="italic">{'\u03bc'}</tspan>
          <tspan fontStyle="italic" {...sub} dy={5}>t</tspan>
          <tspan dy={-5}>{'\u2212'}</tspan>
          <tspan fontStyle="italic">{'\u03bc'}</tspan>
          <tspan {...sub} dy={5}>0</tspan>
          <tspan dy={-5}>])</tspan>
        </text>
      </svg>
    </div>
  )
}
